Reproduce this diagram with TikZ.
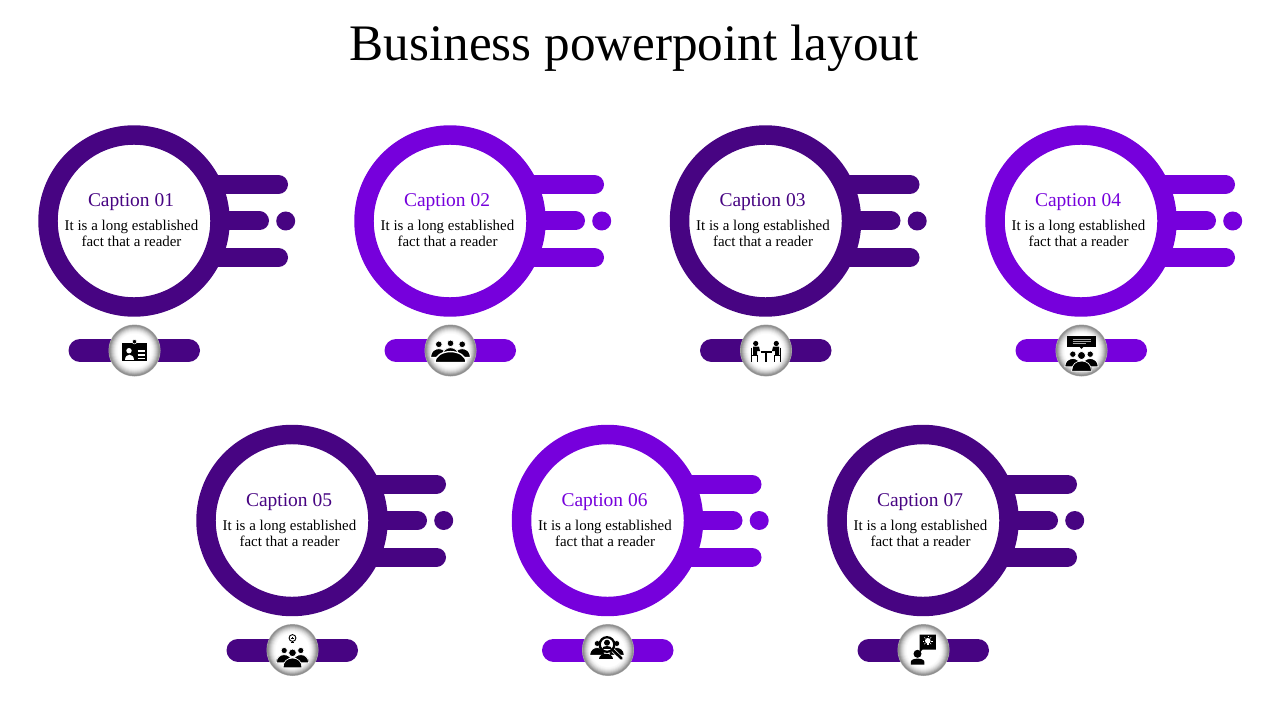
\documentclass[tikz,border=0pt]{standalone}
\usepackage{fontspec}
\setmainfont{Liberation Serif}
\usepackage{xcolor}
\usetikzlibrary{positioning}

\definecolor{darkvio}{HTML}{470482}
\definecolor{brightvio}{HTML}{7600DC}

\tikzset{
	ringnode/.style={circle, draw=#1, line width=14.6pt, fill=white, minimum size=129pt},
	barline/.style={line cap=round, line width=14.25pt},
	pillline/.style={line cap=round, line width=17.25pt},
	dotnode/.style={circle, minimum size=14.25pt, inner sep=0pt},
	badgenode/.style={circle, fill=black!30, minimum size=39pt, inner sep=0pt},
	captiontext/.style={font=\fontsize{14.6}{16}\selectfont},
	bodytext/.style={font=\fontsize{11.2}{12}\selectfont, align=center, text=black},
	whiteline/.style={white, line width=0.8pt}
}

% head at (#1,#2), head radius #3
\newcommand{\person}[3]{
	\filldraw[black, draw=white, line width=0.5pt] (#1,#2) circle (#3);
	\filldraw[black, draw=white, line width=0.5pt] (#1-2.5*#3,#2+3.9*#3) .. controls (#1-2.5*#3,#2+0.5*#3) and (#1+2.5*#3,#2+0.5*#3) .. (#1+2.5*#3,#2+3.9*#3) -- cycle;
}

\newcommand{\iconcard}{
	\fill[black] (-12.8,-7.2) rectangle (12.8,10.5);
	\filldraw[black, draw=white, line width=0.4pt] (0,-8.8) circle (2.2);
	\fill[white] (-5.5,0.2) circle (2.7);
	\fill[white] (-9.8,9) .. controls (-9.8,2.5) and (-0.6,2.5) .. (-0.6,9) -- cycle;
	\foreach \ly in {0.5,4.5,8} {
		\draw[whiteline] (3.2,\ly) -- (10.8,\ly);
	}
}
\newcommand{\icontable}{
	\person{-11.7}{-6.2}{3.3}
	\person{11.7}{-6.2}{3.3}
	\person{0}{-7.2}{3.3}
	\filldraw[black, draw=white, line width=1pt] (-15.5,12) .. controls (-15.5,-2.5) and (15.5,-2.5) .. (15.5,12) -- cycle;
}
\newcommand{\iconmeeting}{
	\foreach \sd in {-1,1} {
		\fill[black] (\sd*10.3,-7) circle (2.6);
		\fill[black] (\sd*13,-3.8) -- (\sd*7,-3.8) -- (\sd*6,0.5) -- (\sd*9,0.5) -- (\sd*9,4.5) -- (\sd*13,4.5) -- cycle;
		\draw[black, line width=1.1pt] (\sd*14.5,-3) -- (\sd*14.5,11);
		\draw[black, line width=1.1pt] (\sd*14.5,5) -- (\sd*8.5,5) -- (\sd*8.5,11);
	}
	\draw[black, line width=1.2pt] (-5.5,1.5) -- (5.5,1.5);
	\draw[black, line width=1.2pt] (0,1.5) -- (0,11);
}
\newcommand{\iconspeech}{
	\fill[black] (-14.3,-14.8) rectangle (14,-3.8);
	\fill[black] (-2,-3.8) -- (0,-1.5) -- (2,-3.8) -- cycle;
	\foreach \ly/\lx in {-11.5/9,-9.5/9,-7.5/4} {
		\draw[gray!70, line width=0.6pt] (-9,\ly) -- (\lx,\ly);
	}
	\person{-8.7}{3.7}{3.2}
	\person{8.7}{3.7}{3.2}
	\person{0}{5}{4}
}
\newcommand{\iconidea}{
	\draw[black, line width=0.7pt] (0,-12) circle (3.4);
	\draw[black, line width=0.5pt] (-1.2,-12) -- (1.2,-12) (0,-13.2) -- (0,-10.8);
	\draw[black, line width=0.9pt] (-1.5,-7.6) -- (1.5,-7.6);
	\person{-8.3}{0.5}{3.1}
	\person{8.3}{0.5}{3.1}
	\person{0}{2.8}{3.8}
}
\newcommand{\iconsearch}{
	\person{-10.8}{-6.5}{3}
	\person{8.8}{-6.5}{3}
	\fill[black] (-9,9) .. controls (-9,2) and (5,2) .. (5,9) -- cycle;
	\filldraw[white, draw=black, line width=1.7pt] (-1,-5.5) circle (7.3);
	\fill[black] (-1,-7.3) circle (3);
	\fill[black] (-6,-0.8) .. controls (-6,-4.6) and (4,-4.6) .. (4,-0.8) -- cycle;
	\draw[white, line width=3pt] (5,0.3) -- (13.5,8.5);
	\draw[black, line width=2pt, line cap=round] (4.5,-0.2) -- (13.5,8.5);
}
\newcommand{\iconbulb}{
	\fill[black] (-4,-15.5) -- (12.3,-15.5) -- (12.3,-0.5) -- (-1,-0.5) -- (-3.5,2.5) -- (-4,-0.5) -- cycle;
	\fill[white] (4.3,-9.2) circle (2.8);
	\fill[white] (3,-7.5) rectangle (5.6,-4.8);
	\foreach \ang in {0,45,135,180,225,270,315} {
		\draw[white, line width=0.4pt] (4.3,-9.2) ++(\ang:3.4) -- ++(\ang:1.4);
	}
	\fill[black] (-6,3.8) circle (4);
	\fill[black] (-12.7,14.5) -- (-12.7,12) .. controls (-12.7,7.5) and (0.9,7.5) .. (0.9,12) -- (0.9,14.5) -- cycle;
}

\begin{document}
\begin{tikzpicture}[x=0.75pt, y=-0.75pt]
	\useasboundingbox (0,0) rectangle (1280,720);
	\node[font=\fontsize{38.4}{40}\selectfont] (title) at (634,48) {Business powerpoint layout};

	\foreach \n/\cx/\cy/\col/\icon in {
		01/134/221/darkvio/iconcard,
		02/450/221/brightvio/icontable,
		03/765.5/221/darkvio/iconmeeting,
		04/1081/221/brightvio/iconspeech,
		05/292/520.5/darkvio/iconidea,
		06/607.5/520.5/brightvio/iconsearch,
		07/923/520.5/darkvio/iconbulb} {
		\begin{scope}[shift={(\cx,\cy)}]
			% bars go under the ring
			\draw[barline, \col] (70,-36.5) -- (144.5,-36.5);
			\draw[barline, \col] (70,0) -- (125.5,0);
			\draw[barline, \col] (70,36.5) -- (144.5,36.5);
			\node[dotnode, fill=\col] (dot\n) at (151.7,0) {};
			\node[ringnode=\col] (ring\n) at (0,0) {};
			\node[captiontext, text=\col] (cap\n) at (-3,-18.5) {Caption \n};
			\node[bodytext] (body\n) at (-2.5,12.4) {It is a long established\\fact that a reader};
			\draw[pillline, \col] (-54,129.5) -- (54.5,129.5);
			\node[badgenode] (badge\n) at (0.5,129.5) {};
			\begin{scope}[shift={(0.5,129.5)}]
				% stepped rim in place of a gradient
				\foreach \rr/\gv in {25.5/46,25/42,24/34,23/26,22/19,21/13,20/8,19/4,18/2,17/0} {
					\fill[black!\gv] (0,0) circle (\rr);
				}
				\csname\icon\endcsname
			\end{scope}
		\end{scope}
	}
\end{tikzpicture}
\end{document}
